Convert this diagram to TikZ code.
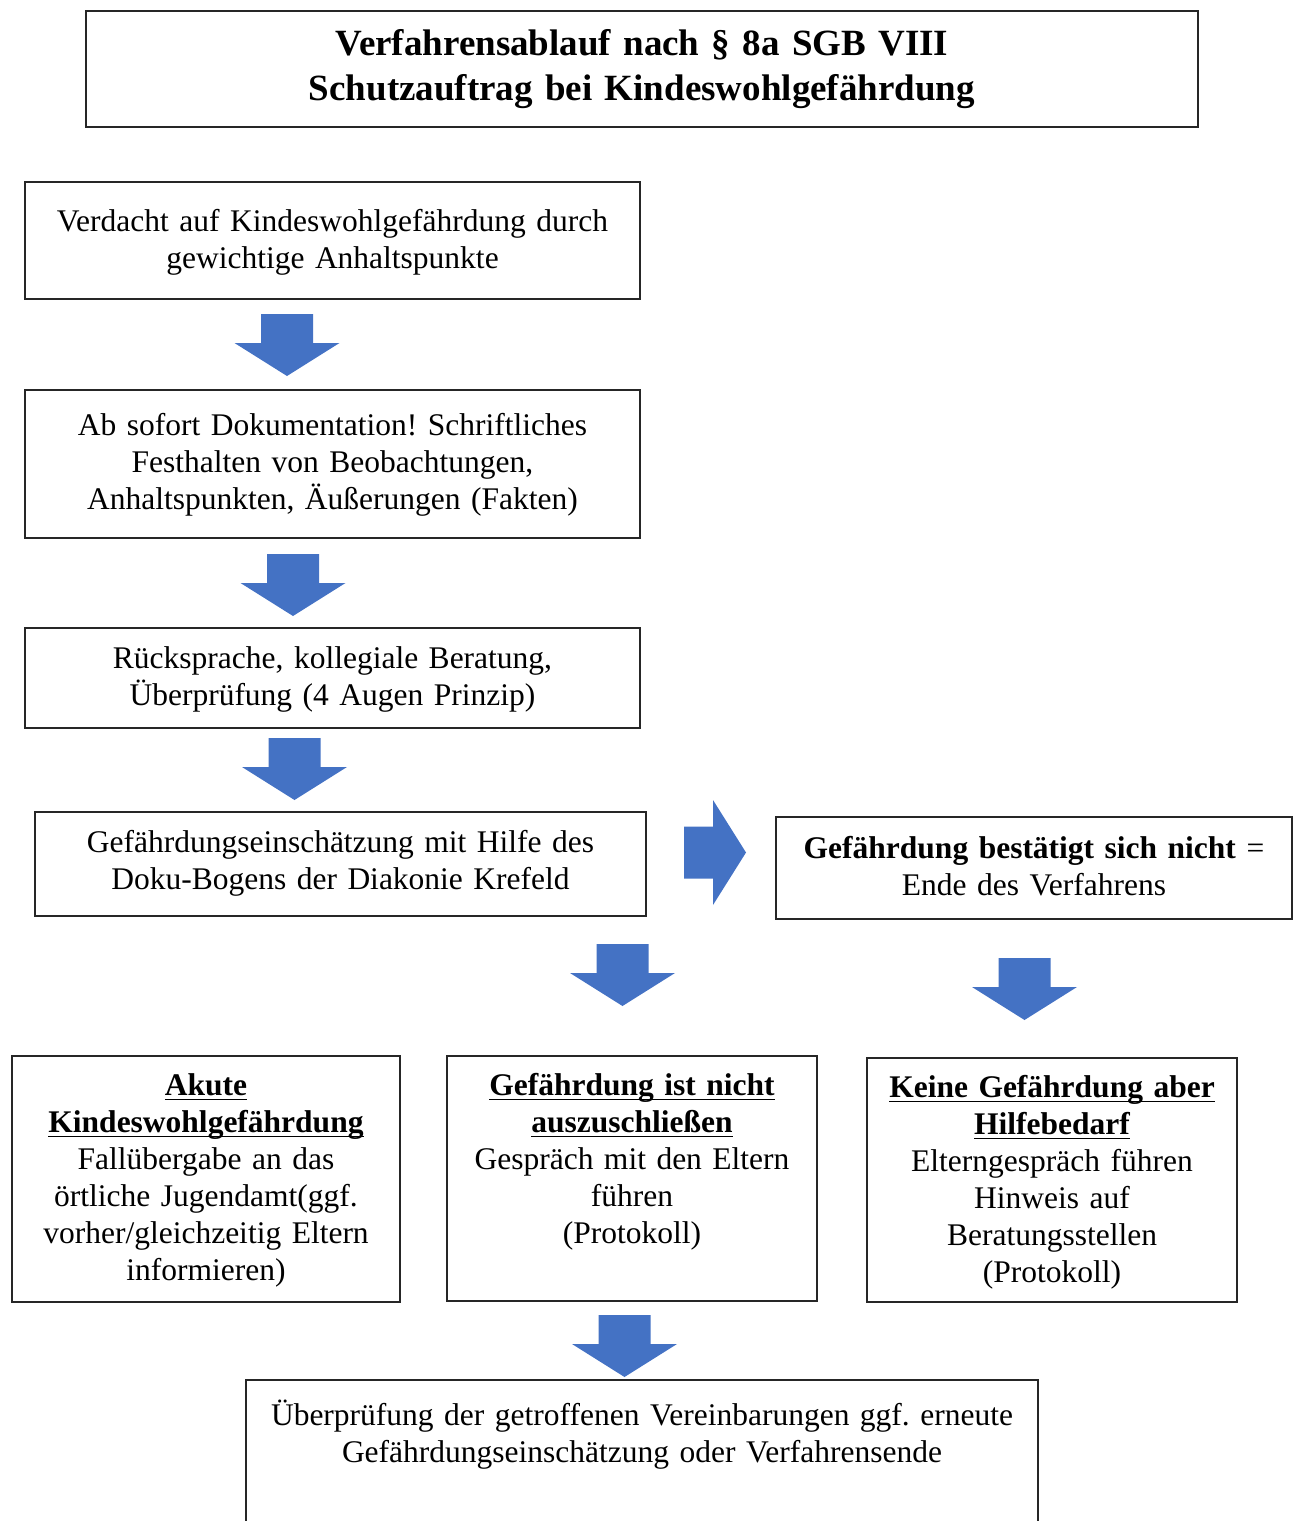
\documentclass[tikz,border=0pt]{standalone}
\usepackage{fontspec}
\setmainfont{Liberation Serif}
\usepackage{tikz}
\usetikzlibrary{calc, positioning}
\frenchspacing
\definecolor{arrowblue}{HTML}{4472C4}
\newcommand{\bodyfont}{\fontsize{31.5}{37}\selectfont}
\newcommand{\titlefont}{\fontsize{37}{45}\selectfont\bfseries}
\newcommand{\ulbf}[1]{\textbf{\setbox0\hbox{#1}\rlap{\rule[-4.5pt]{\wd0}{1.5pt}}\box0}}
\tikzset{
    box/.style = {
        draw=black!85, line width=1.6pt, inner sep=0pt, anchor=north, align=center, font=\bodyfont
    },
    blockarrow/.pic = {
        \fill[arrowblue] (-26,0) -- (26,0) -- (26,29) -- (52.5,29) -- (0,62)
            -- (-52.5,29) -- (-26,29) -- cycle;
    },
}
\begin{document}
\begin{tikzpicture}[x=1pt, y=-1pt]
        \useasboundingbox (0,0) rectangle (1295,1521);

        % Place the blocks
        \node[box, font=\titlefont, text width=1112pt, text height=45pt, text depth=71pt] (title) at (642,10)
            {Verfahrensablauf nach § 8a SGB VIII\\Schutzauftrag bei Kindeswohlgefährdung};
        \node[box, text width=615pt, text height=50pt, text depth=67pt] (verdacht) at (332.5,181)
            {Verdacht auf Kindeswohlgefährdung durch\\gewichtige Anhaltspunkte};
        \node[box, text width=615pt, text height=46pt, text depth=102pt] (doku) at (332.5,389)
            {Ab sofort Dokumentation! Schriftliches\\Festhalten von Beobachtungen,\\Anhaltspunkten, Äußerungen (Fakten)};
        \node[box, text width=615pt, text height=41pt, text depth=59pt] (ruecksprache) at (332.5,627)
            {Rücksprache, kollegiale Beratung,\\Überprüfung (4 Augen Prinzip)};
        \node[box, text width=611pt, text height=41pt, text depth=63pt] (einschaetzung) at (340.5,811)
            {Gefährdungseinschätzung mit Hilfe des\\Doku-Bogens der Diakonie Krefeld};
        \node[box, text width=516pt, text height=42pt, text depth=60pt] (ende) at (1034,816)
            {\textbf{Gefährdung bestätigt sich nicht} =\\Ende des Verfahrens};
        \node[box, text width=388pt, text height=40pt, text depth=206pt] (akut) at (206,1055)
            {\ulbf{Akute}\\\ulbf{Kindeswohlgefährdung}\\Fallübergabe an das\\örtliche Jugendamt(ggf.\\vorher/gleichzeitig Eltern\\informieren)};
        \node[box, text width=370pt, text height=40pt, text depth=205pt] (nichtaus) at (632,1055)
            {\ulbf{Gefährdung ist nicht}\\\ulbf{auszuschließen}\\Gespräch mit den Eltern\\führen\\(Protokoll)};
        \node[box, text width=370pt, text height=40pt, text depth=204pt] (hilfe) at (1052,1057)
            {\ulbf{Keine Gefährdung aber}\\\ulbf{Hilfebedarf}\\Elterngespräch führen\\Hinweis auf\\Beratungsstellen\\(Protokoll)};
        \node[box, text width=792pt, text height=46pt, text depth=150pt] (ueberpruefung) at (642,1379)
            {Überprüfung der getroffenen Vereinbarungen ggf. erneute\\Gefährdungseinschätzung oder Verfahrensende};

        % Draw block arrows
        \pic (pfeil1) at (287,314) {blockarrow};
        \pic (pfeil2) at (293,554) {blockarrow};
        \pic (pfeil3) at (294.5,738) {blockarrow};
        \pic[rotate=90] (pfeilrechts) at (684,852.5) {blockarrow};
        \pic (pfeil4) at (622.5,944) {blockarrow};
        \pic (pfeil5) at (1024.5,958) {blockarrow};
        \pic (pfeil6) at (624.5,1315) {blockarrow};
    \end{tikzpicture}
\end{document}
